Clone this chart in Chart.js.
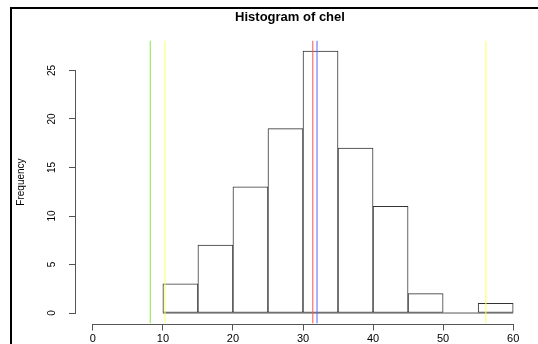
<!DOCTYPE html>
<html>
<head>
<meta charset="utf-8">
<script src="https://cdn.jsdelivr.net/npm/chart.js@4.4.0/dist/chart.umd.min.js"></script>
<style>
  html, body { margin: 0; padding: 0; background: #fff; overflow: hidden; }
  #wrap { position: relative; width: 538px; height: 344px; overflow: hidden; }
  #wrap canvas { position: absolute; left: 0; top: 0; }
  #frame { position: absolute; left: 10px; top: 7px; width: 600px; height: 400px;
           border-left: 2px solid #000; border-top: 2px solid #000; pointer-events: none; }
</style>
</head>
<body>
<div id="wrap">
  <canvas id="hist" width="586" height="344"></canvas>
  <div id="frame"></div>
</div>
<script>
// histogram of chel: bin edges and counts
const breaks = [10, 15, 20, 25, 30, 35, 40, 45, 50, 55, 60];
const counts = [3, 7, 13, 19, 27, 17, 11, 2, 0, 1];
const xTicks = [0, 10, 20, 30, 40, 50, 60];
const yTicks = [0, 5, 10, 15, 20, 25];

// abline(v = ...) markers
const vLines = [8.2, 10.3, 31.4, 32.0, 56.1];
const vColors = ['#80e848', '#ffff60', '#ff5050', '#6060ff', '#ffff60'];

// R pads axis ranges by 4%
const xSpan = xTicks[xTicks.length - 1] - xTicks[0];
const xMin = xTicks[0] - 0.04 * xSpan;
const xMax = xTicks[xTicks.length - 1] + 0.04 * xSpan;
const yTop = Math.max(...counts);
const yMin = -0.04 * yTop;
const yMax = yTop * 1.04;

const barData = counts.map((c, i) => ({ x: (breaks[i] + breaks[i + 1]) / 2, y: c }));

const lineSets = vLines.map((v, i) => ({
  type: 'line',
  data: [{ x: v, y: yMin }, { x: v, y: yMax }],
  borderColor: vColors[i],
  borderWidth: 1,
  pointRadius: 0,
  order: 0
}));

// bottom edge of the bins (the empty bin still shows as a line)
const baseSet = {
  type: 'line',
  data: [{ x: breaks[0], y: 0 }, { x: breaks[breaks.length - 1], y: 0 }],
  borderColor: '#555',
  borderWidth: 1,
  pointRadius: 0,
  order: 1
};

// R style axis lines that run only from first to last tick
const rAxes = {
  id: 'rAxes',
  afterDraw(chart) {
    const { ctx, chartArea, scales } = chart;
    ctx.save();
    ctx.strokeStyle = '#555';
    ctx.lineWidth = 1;
    ctx.beginPath();
    const yb = Math.round(chartArea.bottom) + 0.5;
    ctx.moveTo(scales.x.getPixelForValue(xTicks[0]), yb);
    ctx.lineTo(scales.x.getPixelForValue(xTicks[xTicks.length - 1]), yb);
    const xl = Math.round(chartArea.left) - 0.5;
    ctx.moveTo(xl, scales.y.getPixelForValue(yTicks[0]));
    ctx.lineTo(xl, scales.y.getPixelForValue(yTicks[yTicks.length - 1]));
    ctx.stroke();
    ctx.restore();
  }
};

const font = 'Liberation Sans, Arial, sans-serif';

new Chart(document.getElementById('hist'), {
  type: 'bar',
  data: {
    datasets: [
      ...lineSets,
      baseSet,
      {
        type: 'bar',
        data: barData,
        backgroundColor: '#fff',
        borderColor: '#333',
        borderWidth: 1,
        borderSkipped: false,
        barPercentage: 1,
        categoryPercentage: 1,
        grouped: false,
        order: 2
      }
    ]
  },
  options: {
    responsive: false,
    animation: false,
    layout: { padding: { left: 0, right: 6, top: 0, bottom: 0 } },
    plugins: {
      legend: { display: false },
      tooltip: { enabled: false },
      title: {
        display: true,
        text: 'Histogram of chel',
        color: '#000',
        font: { family: font, size: 13, weight: 'bold' },
        padding: { top: 10, bottom: 15 }
      }
    },
    scales: {
      x: {
        type: 'linear',
        offset: false,
        min: xMin,
        max: xMax,
        afterBuildTicks: axis => { axis.ticks = xTicks.map(v => ({ value: v })); },
        afterFit: axis => { axis.height = 20.5; },
        grid: { display: true, offset: false, drawOnChartArea: false, drawTicks: true, tickLength: 7, color: '#555' },
        border: { display: false },
        ticks: { color: '#000', padding: 2, maxRotation: 0, font: { family: font, size: 11 } }
      },
      y: {
        type: 'linear',
        min: yMin,
        max: yMax,
        afterBuildTicks: axis => { axis.ticks = yTicks.map(v => ({ value: v })); },
        afterFit: axis => { axis.width = 76; },
        grid: { display: true, drawOnChartArea: false, drawTicks: true, tickLength: 7, color: '#555' },
        border: { display: false },
        ticks: {
          color: '#000',
          padding: 11,
          minRotation: 90,
          maxRotation: 90,
          crossAlign: 'center',
          font: { family: font, size: 10 }
        },
        title: {
          display: true,
          text: 'Frequency',
          color: '#000',
          padding: { top: 15, bottom: 0 },
          font: { family: font, size: 10 }
        }
      },
      // empty right margin of the cropped R device, keeps the title centred like the original
      yRight: {
        type: 'linear',
        position: 'right',
        display: true,
        afterFit: axis => { axis.width = 50; },
        grid: { display: false },
        border: { display: false },
        ticks: { display: false }
      }
    }
  },
  plugins: [rAxes]
});
</script>
</body>
</html>
